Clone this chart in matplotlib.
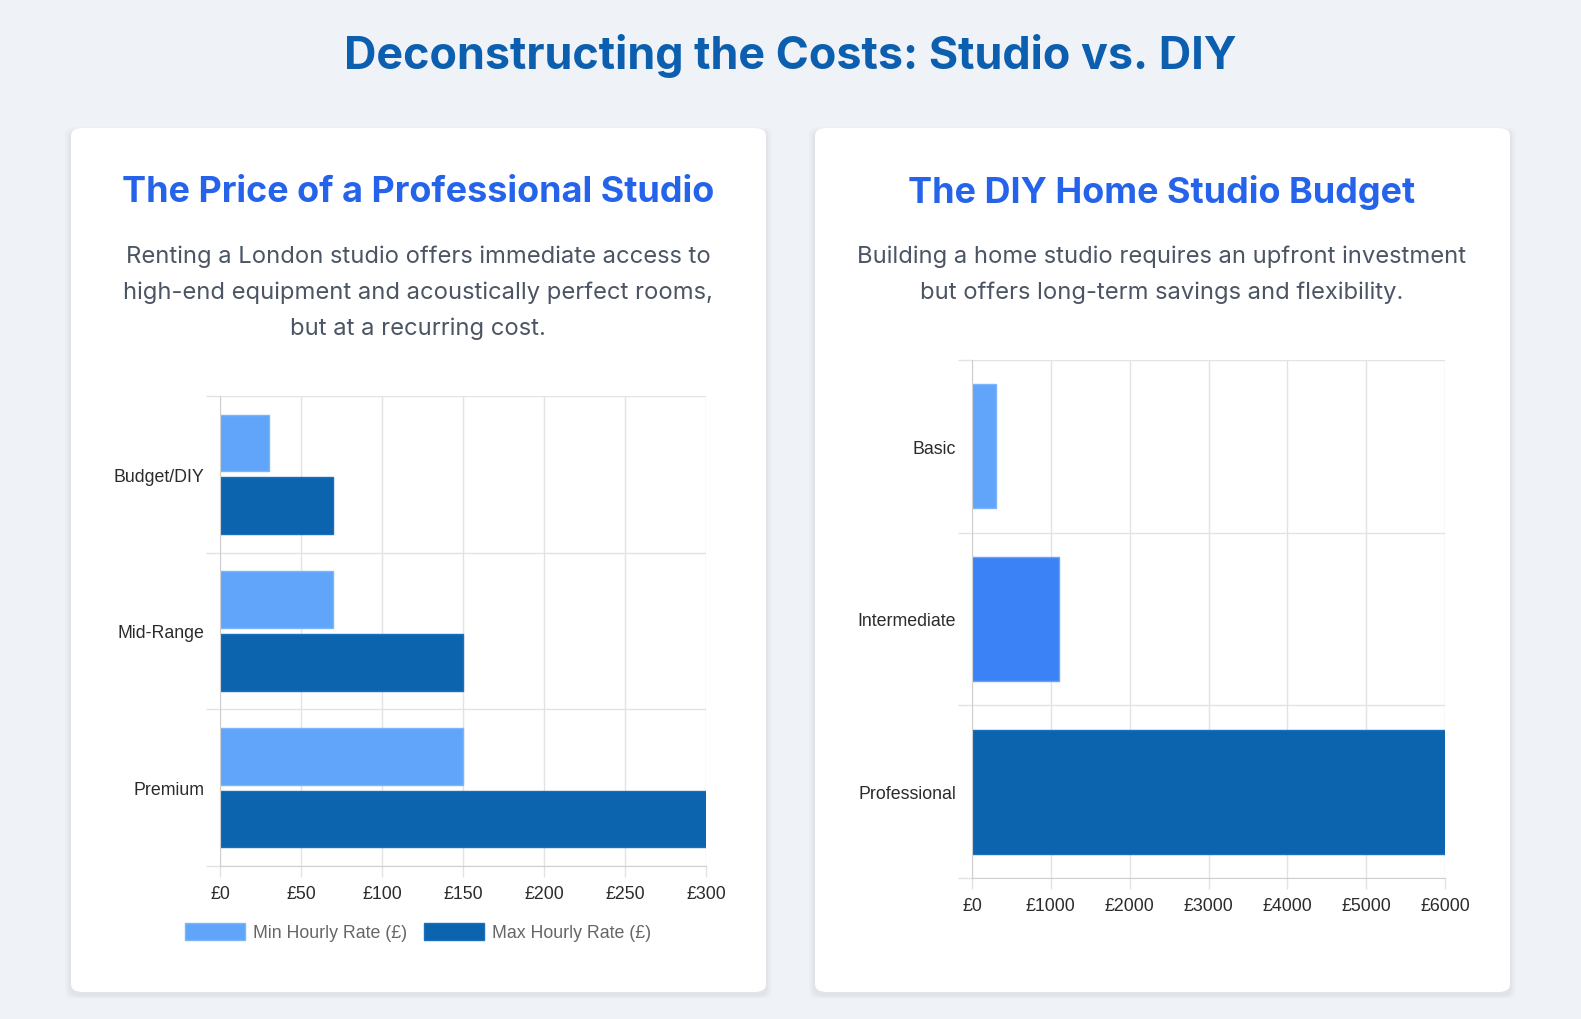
import numpy as np
import matplotlib.pyplot as plt
from matplotlib.patches import FancyBboxPatch, Patch

# データ
studio_tiers = ["Budget/DIY", "Mid-Range", "Premium"]
min_rate = [30, 70, 150]
max_rate = [70, 150, 300]

diy_tiers = ["Basic", "Intermediate", "Professional"]
diy_cost = [300, 1100, 6000]

W, H = 1581, 1020
BG = "#eff3f8"
C_MIN = "#60a5fa"
C_MAX = "#0c63ae"
C_MID = "#3b82f6"
GRID = "#e3e3e3"
TICK = "#2b2b2b"
FS = 12.8  # 軸ラベルの文字サイズ


def px(x, y):
    return x / W, 1 - y / H


def add_card(fig, x0, y0, x1, y1):
    # 影
    for i, a in enumerate([0.025, 0.02, 0.015]):
        d = 2 + i * 2
        sh = FancyBboxPatch((x0 / W, 1 - (y1 + 3) / H), (x1 - x0) / W, (y1 - y0) / H,
                            boxstyle=f"round,pad={d / W},rounding_size={12 / W}",
                            transform=fig.transFigure, fc="#000000", ec="none", alpha=a, zorder=-5)
        fig.patches.append(sh)
    card = FancyBboxPatch((x0 / W, 1 - y1 / H), (x1 - x0) / W, (y1 - y0) / H,
                          boxstyle=f"round,pad=0,rounding_size={12 / W}",
                          transform=fig.transFigure, fc="white", ec="none", zorder=-4)
    fig.patches.append(card)


def axes_px(fig, x0, y0, x1, y1):
    return fig.add_axes([x0 / W, 1 - y1 / H, (x1 - x0) / W, (y1 - y0) / H], zorder=2)


def style_ax(ax, n):
    ax.set_ylim(n - 0.5, -0.5)
    ax.set_yticks(range(n))
    ax.set_yticks(np.arange(-0.5, n, 1), minor=True)
    ax.tick_params(axis="y", which="major", length=0, pad=11.5, labelsize=FS, labelcolor=TICK)
    ax.tick_params(axis="y", which="minor", length=10, color=GRID, width=1)
    ax.tick_params(axis="x", which="major", length=8, color=GRID, width=1, labelsize=FS,
                   labelcolor=TICK, pad=6)
    ax.grid(axis="x", which="major", color=GRID, lw=1)
    ax.grid(axis="y", which="minor", color=GRID, lw=1)
    ax.set_axisbelow(True)
    for s in ["top", "right"]:
        ax.spines[s].set_visible(False)
    ax.spines["left"].set_color("#cfcfcf")
    ax.spines["bottom"].set_color("#cfcfcf")
    for lab in ax.get_xticklabels() + ax.get_yticklabels():
        lab.set_family(["Liberation Sans", "DejaVu Sans"])


def main():
    plt.rcParams["font.family"] = ["Inter", "DejaVu Sans"]
    fig = plt.figure(figsize=(W / 100, H / 100), dpi=100, facecolor=BG)

    fig.text(*px(790, 56), "Deconstructing the Costs: Studio vs. DIY", ha="center", va="center",
             fontsize=32.3, fontweight="bold", color="#0b5fae")

    add_card(fig, 71, 129, 766, 993)
    add_card(fig, 815, 129, 1510, 993)

    # 左カード
    fig.text(*px(418, 192), "The Price of a Professional Studio", ha="center", va="center",
             fontsize=25.9, fontweight="bold", color="#2563eb")
    desc1 = ["Renting a London studio offers immediate access to",
             "high-end equipment and acoustically perfect rooms,",
             "but at a recurring cost."]
    for i, line in enumerate(desc1):
        fig.text(*px(418, 257 + 36 * i), line, ha="center", va="center", fontsize=17.1, color="#4b5563")

    ax1 = axes_px(fig, 220, 397, 706, 867)
    y = np.arange(len(studio_tiers))
    ax1.barh(y - 0.2, min_rate, height=0.36, color=C_MIN, edgecolor="#7db5fb", lw=1, label="Min Hourly Rate (£)")
    ax1.barh(y + 0.2, max_rate, height=0.36, color=C_MAX, edgecolor="#1a6fc0", lw=1, label="Max Hourly Rate (£)")
    ax1.set_xlim(0, 300)
    ax1.set_xticks(np.arange(0, 301, 50))
    ax1.set_xticklabels([f"£{v}" for v in range(0, 301, 50)])
    ax1.set_yticklabels(studio_tiers)
    style_ax(ax1, len(studio_tiers))

    handles = [Patch(fc=C_MIN, ec="#7db5fb"), Patch(fc=C_MAX, ec="#1a6fc0")]
    leg = fig.legend(handles, ["Min Hourly Rate (£)", "Max Hourly Rate (£)"], loc="center",
                     bbox_to_anchor=px(418, 933), ncol=2, frameon=False,
                     handlelength=3.4, handleheight=1.1, handletextpad=0.45, columnspacing=0.9,
                     prop={"family": ["Liberation Sans", "DejaVu Sans"], "size": FS})
    for t in leg.get_texts():
        t.set_color("#666666")

    # 右カード
    fig.text(*px(1162, 192), "The DIY Home Studio Budget", ha="center", va="center",
             fontsize=25.9, fontweight="bold", color="#2563eb")
    desc2 = ["Building a home studio requires an upfront investment",
             "but offers long-term savings and flexibility."]
    for i, line in enumerate(desc2):
        fig.text(*px(1162, 257 + 36 * i), line, ha="center", va="center", fontsize=17.1, color="#4b5563")

    ax2 = axes_px(fig, 972, 361, 1445, 879)
    y2 = np.arange(len(diy_tiers))
    ax2.barh(y2, diy_cost, height=0.72, color=[C_MIN, C_MID, C_MAX],
             edgecolor=["#7db5fb", "#6aa3f8", "#1a6fc0"], lw=1)
    ax2.set_xlim(0, 6000)
    ax2.set_xticks(np.arange(0, 6001, 1000))
    ax2.set_xticklabels([f"£{v}" for v in range(0, 6001, 1000)])
    ax2.set_yticklabels(diy_tiers)
    style_ax(ax2, len(diy_tiers))

    plt.savefig("out.png", dpi=100, facecolor=BG)


if __name__ == "__main__":
    main()
